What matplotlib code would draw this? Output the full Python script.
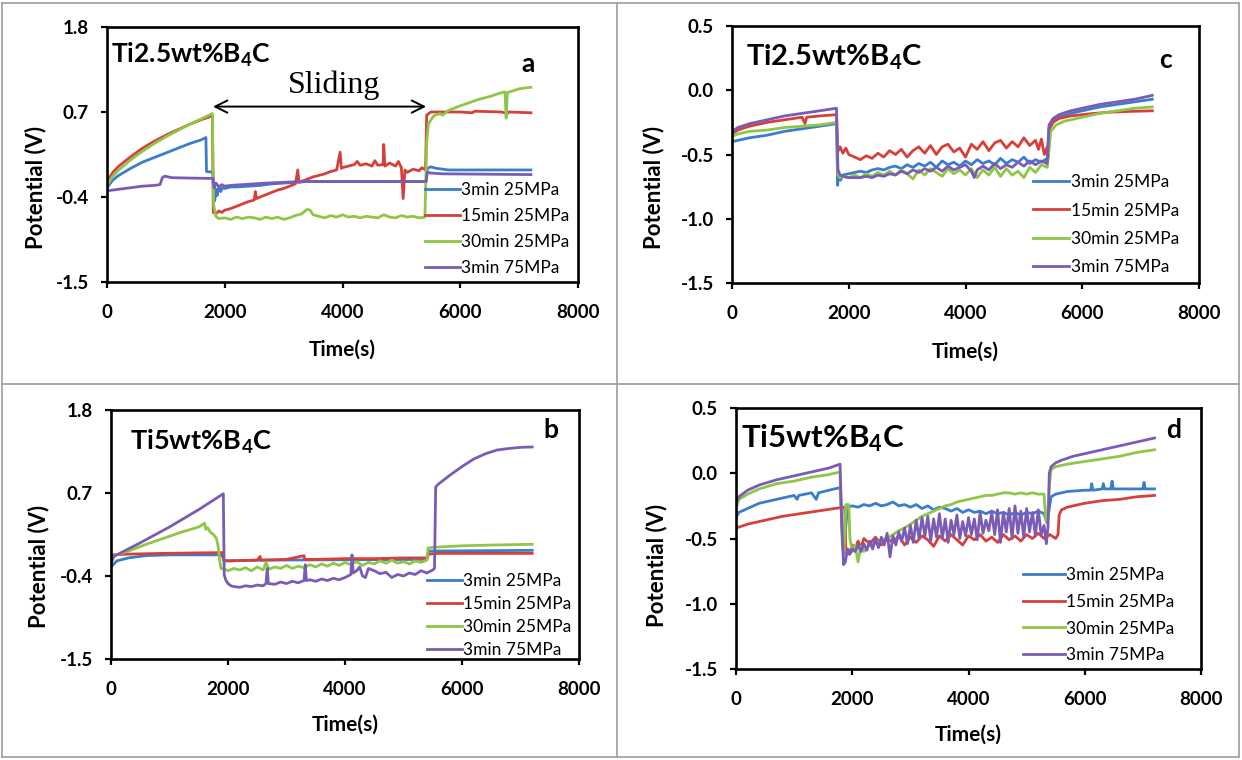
import matplotlib
matplotlib.use("Agg")
import matplotlib.pyplot as plt
from matplotlib.lines import Line2D
from matplotlib.ticker import FormatStrFormatter

plt.rcParams["font.family"] = ["Lato", "DejaVu Sans"]
plt.rcParams["axes.unicode_minus"] = False
plt.rcParams["mathtext.fontset"] = "custom"
plt.rcParams["mathtext.rm"] = "Lato:bold"
plt.rcParams["mathtext.it"] = "Lato:bold"
plt.rcParams["mathtext.bf"] = "Lato:bold"

# ---------------------------------------------------------------- data
LABELS = ["3min 25MPa", "15min 25MPa", "30min 25MPa", "3min 75MPa"]
COLORS = ["#3A7DC9", "#D7403A", "#8FC645", "#7A5CB6"]
X_TICKS = [0, 2000, 4000, 6000, 8000]
Y_TICKS_LEFT = [-1.5, -0.4, 0.7, 1.8]
Y_TICKS_RIGHT = [-1.5, -1.0, -0.5, 0.0, 0.5]

# (time s, potential V) — Ti2.5wt%B4C, open circuit (a)
A_3MIN25 = [(0, -0.28), (100, -0.18), (200, -0.12), (400, -0.03), (600, 0.05), (800, 0.11),
            (1000, 0.17), (1200, 0.23), (1400, 0.29), (1600, 0.34), (1680, 0.37), (1690, -0.07),
            (1800, -0.08), (1810, -0.40), (1830, -0.45), (1850, -0.30), (1870, -0.38), (1900, -0.27),
            (1930, -0.33), (1960, -0.28), (2000, -0.29), (2100, -0.27), (2200, -0.27), (2400, -0.26),
            (2600, -0.25), (2800, -0.23), (3000, -0.22), (3200, -0.21), (3400, -0.20), (3800, -0.20),
            (4200, -0.20), (4600, -0.20), (5000, -0.20), (5420, -0.20), (5440, -0.03), (5500, -0.01),
            (5600, -0.03), (5800, -0.05), (7200, -0.05)]
A_15MIN25 = [(0, -0.20), (100, -0.08), (200, 0.0), (400, 0.12), (600, 0.23), (800, 0.32),
             (1000, 0.40), (1200, 0.47), (1400, 0.54), (1600, 0.60), (1790, 0.65), (1805, -0.60),
             (1850, -0.62), (1900, -0.58), (1950, -0.60), (2000, -0.57), (2100, -0.55), (2200, -0.52),
             (2300, -0.49), (2400, -0.46), (2500, -0.44), (2520, -0.33), (2540, -0.42), (2600, -0.40),
             (2700, -0.37), (2800, -0.34), (2900, -0.31), (3000, -0.29), (3100, -0.26), (3200, -0.23),
             (3240, -0.05), (3260, -0.21), (3300, -0.20), (3400, -0.17), (3500, -0.14), (3600, -0.12),
             (3700, -0.10), (3800, -0.07), (3900, -0.05), (3960, 0.18), (3980, -0.03), (4000, -0.02),
             (4100, 0.0), (4200, 0.02), (4250, 0.06), (4300, 0.01), (4400, 0.03), (4500, 0.0),
             (4550, 0.07), (4600, 0.01), (4690, 0.02), (4700, 0.28), (4720, 0.0), (4800, 0.04),
             (4900, 0.0), (4950, 0.06), (5000, -0.02), (5030, -0.42), (5060, -0.05), (5100, -0.08),
             (5200, -0.04), (5300, -0.06), (5350, -0.02), (5410, -0.05), (5430, 0.66), (5500, 0.70),
             (6000, 0.70), (6200, 0.69), (6250, 0.71), (6700, 0.70), (6800, 0.68), (6820, 0.70),
             (7200, 0.69)]
A_30MIN25 = [(0, -0.25), (100, -0.13), (200, -0.05), (400, 0.08), (600, 0.19), (800, 0.29),
             (1000, 0.38), (1200, 0.46), (1400, 0.54), (1600, 0.61), (1790, 0.68), (1810, -0.50),
             (1850, -0.65), (1900, -0.68), (2000, -0.67), (2100, -0.69), (2200, -0.66), (2300, -0.68),
             (2400, -0.66), (2500, -0.67), (2600, -0.69), (2700, -0.66), (2800, -0.68), (2900, -0.66),
             (3000, -0.69), (3100, -0.67), (3200, -0.64), (3300, -0.62), (3400, -0.56), (3450, -0.57),
             (3500, -0.63), (3600, -0.65), (3700, -0.67), (3800, -0.64), (3900, -0.66), (4000, -0.63),
             (4100, -0.66), (4200, -0.65), (4300, -0.67), (4400, -0.65), (4500, -0.66), (4600, -0.67),
             (4700, -0.63), (4800, -0.66), (4900, -0.67), (5000, -0.64), (5100, -0.66), (5200, -0.65),
             (5300, -0.67), (5400, -0.66), (5430, 0.30), (5460, 0.55), (5550, 0.65), (5650, 0.68),
             (5700, 0.66), (5800, 0.72), (6000, 0.78), (6300, 0.86), (6500, 0.90), (6700, 0.95),
             (6760, 0.96), (6780, 0.62), (6800, 0.95), (7000, 1.00), (7200, 1.02)]
A_3MIN75 = [(0, -0.32), (200, -0.30), (400, -0.28), (600, -0.26), (800, -0.25), (900, -0.24),
            (940, -0.15), (980, -0.13), (1100, -0.15), (1400, -0.155), (1800, -0.16), (1820, -0.28),
            (1850, -0.22), (1900, -0.27), (1950, -0.24), (2000, -0.26), (2100, -0.25), (2300, -0.24),
            (2500, -0.23), (2700, -0.22), (3000, -0.21), (3300, -0.20), (4000, -0.20), (5420, -0.20),
            (5440, -0.08), (5500, -0.09), (5700, -0.10), (7200, -0.11)]

# Ti5wt%B4C, open circuit (b)
B_3MIN25 = [(0, -0.28), (100, -0.20), (300, -0.16), (600, -0.13), (1000, -0.12), (1900, -0.12),
            (1930, -0.20), (2500, -0.19), (5400, -0.18), (5430, -0.07), (7200, -0.06)]
B_15MIN25 = [(0, -0.12), (300, -0.11), (900, -0.10), (1900, -0.09), (1930, -0.19), (2000, -0.20),
             (2500, -0.19), (2550, -0.14), (2560, -0.19), (3000, -0.18), (3300, -0.13), (3310, -0.18),
             (3500, -0.18), (4000, -0.17), (4500, -0.17), (5000, -0.16), (5400, -0.16), (5430, -0.11),
             (5600, -0.10), (7200, -0.10)]
B_30MIN25 = [(0, -0.25), (50, -0.13), (300, -0.07), (600, 0.02), (900, 0.10), (1200, 0.18),
             (1500, 0.25), (1600, 0.30), (1620, 0.22), (1650, 0.24), (1700, 0.18), (1750, 0.15),
             (1800, 0.10), (1830, 0.0), (1860, -0.20), (1880, -0.30), (1950, -0.31), (2000, -0.33),
             (2100, -0.30), (2200, -0.32), (2300, -0.29), (2400, -0.33), (2500, -0.28), (2600, -0.32),
             (2650, -0.22), (2700, -0.31), (2800, -0.28), (2900, -0.30), (3000, -0.26), (3100, -0.30),
             (3200, -0.27), (3300, -0.29), (3400, -0.25), (3500, -0.28), (3600, -0.24), (3700, -0.27),
             (3800, -0.23), (3900, -0.26), (4000, -0.22), (4100, -0.25), (4200, -0.21), (4300, -0.26),
             (4400, -0.22), (4500, -0.24), (4600, -0.20), (4700, -0.23), (4800, -0.19), (4900, -0.23),
             (5000, -0.21), (5100, -0.24), (5200, -0.20), (5300, -0.22), (5400, -0.19), (5420, -0.03),
             (5500, -0.02), (6000, 0.0), (6500, 0.01), (7200, 0.02)]
B_3MIN75 = [(0, -0.22), (50, -0.14), (500, 0.04), (1000, 0.25), (1500, 0.48), (1920, 0.69),
            (1935, -0.38), (1960, -0.45), (2000, -0.50), (2050, -0.53), (2100, -0.54), (2200, -0.55),
            (2300, -0.53), (2400, -0.54), (2500, -0.52), (2600, -0.53), (2650, -0.50), (2670, -0.30),
            (2690, -0.50), (2800, -0.51), (2900, -0.48), (3000, -0.50), (3100, -0.47), (3200, -0.49),
            (3300, -0.46), (3320, -0.25), (3340, -0.46), (3400, -0.45), (3500, -0.47), (3600, -0.44),
            (3700, -0.46), (3800, -0.43), (3900, -0.45), (4000, -0.42), (4100, -0.38), (4120, -0.12),
            (4140, -0.36), (4200, -0.33), (4250, -0.28), (4300, -0.40), (4350, -0.42), (4400, -0.30),
            (4500, -0.33), (4600, -0.37), (4700, -0.35), (4800, -0.42), (4900, -0.38), (5000, -0.40),
            (5100, -0.36), (5200, -0.38), (5300, -0.33), (5400, -0.36), (5500, -0.32), (5530, -0.30),
            (5550, 0.78), (5600, 0.82), (5800, 0.94), (6000, 1.05), (6200, 1.15), (6400, 1.22),
            (6600, 1.27), (6800, 1.29), (7000, 1.305), (7200, 1.31)]

# Ti2.5wt%B4C, second sample set (c)
C_3MIN25 = [(0, -0.40), (100, -0.39), (300, -0.37), (600, -0.35), (900, -0.32), (1200, -0.30),
            (1500, -0.28), (1790, -0.26), (1810, -0.74), (1830, -0.64), (1860, -0.70), (1900, -0.66),
            (2000, -0.65), (2100, -0.64), (2200, -0.63), (2300, -0.64), (2400, -0.62), (2500, -0.61),
            (2600, -0.62), (2700, -0.60), (2800, -0.59), (2900, -0.61), (3000, -0.58), (3100, -0.60),
            (3200, -0.57), (3300, -0.59), (3400, -0.56), (3500, -0.60), (3600, -0.55), (3700, -0.58),
            (3800, -0.56), (3900, -0.59), (4000, -0.55), (4100, -0.58), (4200, -0.54), (4300, -0.57),
            (4400, -0.55), (4500, -0.58), (4600, -0.53), (4700, -0.57), (4800, -0.54), (4900, -0.56),
            (5000, -0.52), (5100, -0.57), (5200, -0.54), (5300, -0.56), (5400, -0.53), (5430, -0.30),
            (5500, -0.24), (5600, -0.21), (5800, -0.18), (6000, -0.16), (6300, -0.13), (6600, -0.11),
            (6900, -0.09), (7200, -0.07)]
C_15MIN25 = [(0, -0.34), (100, -0.31), (300, -0.28), (600, -0.25), (900, -0.23), (1200, -0.21),
             (1250, -0.26), (1280, -0.21), (1500, -0.20), (1790, -0.19), (1810, -0.48), (1850, -0.44),
             (1900, -0.49), (1950, -0.45), (2000, -0.50), (2100, -0.52), (2200, -0.54), (2300, -0.51),
             (2400, -0.53), (2500, -0.49), (2600, -0.52), (2700, -0.47), (2800, -0.50), (2900, -0.46),
             (3000, -0.52), (3100, -0.47), (3200, -0.44), (3300, -0.49), (3400, -0.43), (3500, -0.50),
             (3600, -0.44), (3700, -0.42), (3800, -0.48), (3900, -0.45), (4000, -0.52), (4100, -0.42),
             (4200, -0.46), (4300, -0.40), (4400, -0.47), (4500, -0.41), (4600, -0.39), (4700, -0.45),
             (4800, -0.40), (4900, -0.44), (5000, -0.37), (5100, -0.43), (5200, -0.39), (5250, -0.46),
             (5300, -0.38), (5350, -0.50), (5400, -0.44), (5420, -0.52), (5440, -0.30), (5500, -0.25),
             (5600, -0.22), (5800, -0.20), (6000, -0.19), (6200, -0.18), (6500, -0.17), (6800, -0.165),
             (7200, -0.16)]
C_30MIN25 = [(0, -0.36), (100, -0.34), (300, -0.32), (600, -0.31), (900, -0.29), (1200, -0.28),
             (1500, -0.27), (1790, -0.25), (1815, -0.66), (1850, -0.68), (1900, -0.67), (2000, -0.68),
             (2100, -0.66), (2200, -0.68), (2300, -0.65), (2400, -0.67), (2500, -0.64), (2600, -0.66),
             (2700, -0.63), (2800, -0.66), (2900, -0.62), (3000, -0.65), (3100, -0.69), (3200, -0.62),
             (3300, -0.66), (3400, -0.61), (3500, -0.64), (3600, -0.67), (3700, -0.61), (3800, -0.65),
             (3900, -0.62), (4000, -0.66), (4100, -0.61), (4200, -0.68), (4300, -0.62), (4400, -0.66),
             (4500, -0.60), (4600, -0.67), (4700, -0.61), (4800, -0.66), (4900, -0.63), (5000, -0.68),
             (5100, -0.60), (5200, -0.64), (5300, -0.58), (5400, -0.60), (5460, -0.32), (5550, -0.27),
             (5700, -0.24), (6000, -0.21), (6300, -0.18), (6600, -0.16), (6900, -0.14), (7200, -0.13)]
C_3MIN75 = [(0, -0.32), (100, -0.29), (300, -0.26), (600, -0.23), (900, -0.20), (1200, -0.18),
            (1500, -0.16), (1790, -0.14), (1815, -0.62), (1850, -0.66), (1900, -0.67), (2000, -0.68),
            (2100, -0.68), (2200, -0.68), (2300, -0.67), (2400, -0.68), (2500, -0.66), (2600, -0.67),
            (2700, -0.65), (2800, -0.66), (2900, -0.63), (3000, -0.65), (3100, -0.62), (3200, -0.64),
            (3300, -0.61), (3400, -0.63), (3500, -0.60), (3600, -0.63), (3700, -0.59), (3800, -0.62),
            (3900, -0.60), (4000, -0.58), (4100, -0.63), (4150, -0.68), (4200, -0.62), (4300, -0.59),
            (4400, -0.62), (4500, -0.57), (4600, -0.61), (4700, -0.58), (4800, -0.60), (4900, -0.56),
            (5000, -0.59), (5100, -0.55), (5200, -0.58), (5300, -0.55), (5400, -0.57), (5430, -0.27),
            (5500, -0.22), (5600, -0.19), (5800, -0.16), (6000, -0.14), (6300, -0.11), (6600, -0.09),
            (6900, -0.07), (7200, -0.04)]

# Ti5wt%B4C, second sample set (d)
D_3MIN25 = [(0, -0.34), (50, -0.30), (200, -0.27), (400, -0.23), (700, -0.20), (1000, -0.17),
            (1050, -0.20), (1080, -0.17), (1300, -0.15), (1380, -0.20), (1420, -0.15), (1600, -0.13),
            (1790, -0.11), (1820, -0.35), (1850, -0.62), (1880, -0.45), (1920, -0.26), (2000, -0.25),
            (2100, -0.26), (2200, -0.24), (2300, -0.25), (2400, -0.23), (2500, -0.25), (2600, -0.24),
            (2700, -0.22), (2800, -0.25), (2900, -0.24), (3000, -0.26), (3100, -0.24), (3200, -0.27),
            (3300, -0.25), (3400, -0.28), (3500, -0.26), (3600, -0.27), (3700, -0.29), (3800, -0.27),
            (3900, -0.30), (4000, -0.28), (4100, -0.30), (4200, -0.29), (4300, -0.31), (4400, -0.29),
            (4500, -0.31), (4600, -0.30), (4700, -0.32), (4800, -0.30), (4900, -0.32), (5000, -0.30),
            (5100, -0.31), (5200, -0.29), (5300, -0.31), (5350, -0.38), (5380, -0.30), (5420, -0.18),
            (5500, -0.16), (5700, -0.14), (6000, -0.13), (6100, -0.13), (6120, -0.08), (6140, -0.13),
            (6300, -0.12), (6320, -0.08), (6340, -0.12), (6450, -0.12), (6470, -0.06), (6490, -0.12),
            (6700, -0.12), (7000, -0.12), (7020, -0.07), (7040, -0.12), (7200, -0.12)]
D_15MIN25 = [(0, -0.42), (200, -0.39), (500, -0.36), (800, -0.33), (1100, -0.31), (1400, -0.29),
             (1700, -0.27), (1870, -0.26), (1890, -0.60), (1950, -0.62), (2000, -0.55), (2050, -0.58),
             (2100, -0.52), (2150, -0.57), (2200, -0.50), (2300, -0.54), (2400, -0.49), (2500, -0.55),
             (2600, -0.50), (2700, -0.53), (2800, -0.48), (2900, -0.55), (3000, -0.49), (3100, -0.53),
             (3200, -0.48), (3300, -0.51), (3400, -0.56), (3500, -0.48), (3600, -0.52), (3700, -0.47),
             (3800, -0.51), (3900, -0.55), (4000, -0.48), (4100, -0.51), (4200, -0.47), (4300, -0.52),
             (4400, -0.49), (4500, -0.53), (4600, -0.47), (4700, -0.51), (4800, -0.48), (4900, -0.52),
             (5000, -0.47), (5100, -0.50), (5200, -0.46), (5300, -0.50), (5400, -0.47), (5500, -0.50),
             (5540, -0.47), (5560, -0.32), (5600, -0.28), (5700, -0.26), (6000, -0.23), (6300, -0.21),
             (6600, -0.20), (6900, -0.18), (7200, -0.17)]
D_30MIN25 = [(0, -0.27), (50, -0.20), (200, -0.16), (400, -0.12), (700, -0.08), (1000, -0.06),
             (1300, -0.03), (1600, -0.01), (1790, 0.01), (1830, -0.55), (1860, -0.60), (1890, -0.24),
             (1940, -0.24), (1960, -0.50), (2000, -0.60), (2050, -0.55), (2100, -0.68), (2150, -0.56),
             (2200, -0.60), (2300, -0.55), (2400, -0.54), (2500, -0.51), (2600, -0.50), (2700, -0.47),
             (2800, -0.44), (2900, -0.42), (3000, -0.39), (3100, -0.36), (3200, -0.33), (3300, -0.31),
             (3400, -0.29), (3500, -0.27), (3600, -0.25), (3700, -0.24), (3800, -0.22), (3900, -0.21),
             (4000, -0.20), (4100, -0.19), (4200, -0.18), (4300, -0.17), (4400, -0.17), (4500, -0.16),
             (4600, -0.15), (4700, -0.15), (4800, -0.16), (4900, -0.15), (5000, -0.16), (5100, -0.15),
             (5200, -0.16), (5300, -0.16), (5330, -0.36), (5360, -0.37), (5390, -0.10), (5420, 0.03),
             (5500, 0.05), (5700, 0.07), (6000, 0.09), (6300, 0.11), (6600, 0.13), (6900, 0.16),
             (7200, 0.18)]
D_3MIN75 = [(0, -0.23), (50, -0.18), (200, -0.13), (400, -0.09), (700, -0.05), (1000, -0.02),
            (1300, 0.01), (1600, 0.04), (1790, 0.07), (1820, -0.40), (1850, -0.70), (1880, -0.68),
            (1920, -0.58), (1960, -0.62), (2000, -0.58), (2050, -0.60), (2100, -0.55), (2150, -0.60),
            (2200, -0.54), (2250, -0.59), (2300, -0.52), (2350, -0.58), (2400, -0.50), (2450, -0.57),
            (2500, -0.49), (2550, -0.55), (2600, -0.46), (2650, -0.64), (2700, -0.48), (2750, -0.55),
            (2800, -0.45), (2850, -0.52), (2900, -0.42), (2950, -0.54), (3000, -0.40), (3050, -0.53),
            (3100, -0.36), (3150, -0.50), (3200, -0.34), (3250, -0.48), (3300, -0.33), (3350, -0.52),
            (3400, -0.35), (3450, -0.49), (3500, -0.31), (3550, -0.50), (3600, -0.35), (3650, -0.53),
            (3700, -0.36), (3750, -0.47), (3800, -0.32), (3850, -0.50), (3900, -0.37), (3950, -0.48),
            (4000, -0.34), (4050, -0.47), (4100, -0.35), (4150, -0.51), (4200, -0.30), (4250, -0.46),
            (4300, -0.36), (4350, -0.44), (4400, -0.30), (4450, -0.47), (4500, -0.28), (4550, -0.53),
            (4600, -0.30), (4650, -0.45), (4700, -0.27), (4750, -0.50), (4800, -0.25), (4850, -0.46),
            (4900, -0.29), (4950, -0.49), (5000, -0.27), (5050, -0.45), (5100, -0.30), (5150, -0.48),
            (5200, -0.28), (5250, -0.47), (5300, -0.40), (5340, -0.54), (5370, -0.40), (5390, 0.00),
            (5420, 0.05), (5500, 0.08), (5600, 0.10), (5800, 0.13), (6000, 0.15), (6300, 0.18),
            (6600, 0.21), (6900, 0.24), (7200, 0.27)]

# ---------------------------------------------------------------- layout (pixels)
W, H = 1242, 760
PANELS = [
    dict(box=(107, 27, 578, 282), series=[A_3MIN25, A_15MIN25, A_30MIN25, A_3MIN75],
         ylim=(-1.5, 1.8), yticks=Y_TICKS_LEFT, title="Ti2.5wt%B$_4$C", title_px=(111, 63),
         title_size=19, letter="a", letter_px=(528, 72), legend_px=(425, 182),
         legend_handle=2.0, legend_space=0.58, ylabel_px=(46, 187), xlabel_y=340),
    dict(box=(111, 410, 579, 659), series=[B_3MIN25, B_15MIN25, B_30MIN25, B_3MIN75],
         ylim=(-1.5, 1.8), yticks=Y_TICKS_LEFT, title="Ti5wt%B$_4$C", title_px=(130, 450),
         title_size=19.5, letter="b", letter_px=(551, 438), legend_px=(427, 573),
         legend_handle=2.0, legend_space=0.4, ylabel_px=(49, 566), xlabel_y=715),
    dict(box=(732, 26, 1199, 283), series=[C_3MIN25, C_15MIN25, C_30MIN25, C_3MIN75],
         ylim=(-1.5, 0.5), yticks=Y_TICKS_RIGHT, title="Ti2.5wt%B$_4$C", title_px=(746, 65),
         title_size=21, letter="c", letter_px=(1166, 68), legend_px=(1033, 174),
         legend_handle=2.1, legend_space=0.72, ylabel_px=(664, 187), xlabel_y=342),
    dict(box=(736, 408, 1201, 669), series=[D_3MIN25, D_15MIN25, D_30MIN25, D_3MIN75],
         ylim=(-1.5, 0.5), yticks=Y_TICKS_RIGHT, title="Ti5wt%B$_4$C", title_px=(741, 447),
         title_size=22.5, letter="d", letter_px=(1174, 438), legend_px=(1023, 567),
         legend_handle=2.4, legend_space=0.62, ylabel_px=(667, 565), xlabel_y=725),
]

fig = plt.figure(figsize=(W / 100, H / 100), dpi=100)
fig.patch.set_facecolor("white")

# panel frames
FRAME = "#9c9c9c"
for x0, y0, x1, y1 in [(2, 3, 1239, 3), (2, 757, 1239, 757), (2, 3, 2, 757),
                       (1239, 3, 1239, 757), (2, 384, 1239, 384), (617, 3, 617, 757)]:
    fig.add_artist(Line2D([x0 / W, x1 / W], [1 - y0 / H, 1 - y1 / H],
                          transform=fig.transFigure, color=FRAME, lw=1.2))

for p in PANELS:
    L, T, R, B = p["box"]
    ax = fig.add_axes([L / W, 1 - B / H, (R - L) / W, (B - T) / H])

    def fx(px, L=L, R=R):
        return (px - L) / (R - L)

    def fy(py, T=T, B=B):
        return (B - py) / (B - T)

    for pts, lab, col in zip(p["series"], LABELS, COLORS):
        t, v = zip(*pts)
        ax.plot(t, v, color=col, lw=2.0, label=lab, solid_joinstyle="round")

    ax.set_xlim(0, 8000)
    ax.set_ylim(*p["ylim"])
    ax.set_xticks(X_TICKS)
    ax.set_yticks(p["yticks"])
    ax.yaxis.set_major_formatter(FormatStrFormatter("%.1f"))
    ax.tick_params(direction="out", length=4, width=1.6, labelsize=13.5, pad=9)
    ax.tick_params(axis="x", pad=12)
    for lbl in ax.get_xticklabels() + ax.get_yticklabels():
        lbl.set_fontweight("bold")
    for s in ax.spines.values():
        s.set_linewidth(1.9)
        s.set_color("black")

    ax.set_xlabel("Time(s)", fontsize=15, fontweight="bold")
    ax.xaxis.set_label_coords(0.5, fy(p["xlabel_y"]))
    ax.set_ylabel("Potential (V)", fontsize=16, fontweight="bold")
    yx, yy = p["ylabel_px"]
    ax.yaxis.set_label_coords(fx(yx), fy(yy))

    tx, ty = p["title_px"]
    ax.text(fx(tx), fy(ty), p["title"], transform=ax.transAxes, fontsize=p["title_size"],
            fontweight="bold", ha="left", va="baseline")
    lx, ly = p["letter_px"]
    ax.text(fx(lx), fy(ly), p["letter"], transform=ax.transAxes, fontsize=19,
            fontweight="bold", ha="center", va="baseline")

    gx, gy = p["legend_px"]
    ax.legend(loc="upper left", bbox_to_anchor=(gx / W, 1 - gy / H),
              bbox_transform=fig.transFigure, frameon=False, borderpad=0, borderaxespad=0,
              handlelength=p["legend_handle"], handletextpad=0.1,
              labelspacing=p["legend_space"], prop={"family": "Lato", "size": 12.5})

    if p["letter"] == "a":
        ax.annotate("", xy=(5420, 0.77), xytext=(1800, 0.77),
                    arrowprops=dict(arrowstyle="<->", lw=1.4, color="black",
                                    mutation_scale=22, shrinkA=0, shrinkB=0))
        ax.text(3860, 1.05, "Sliding", fontsize=23, family="Liberation Serif",
                ha="center", va="center")

fig.savefig("out.png", dpi=100, facecolor="white")
